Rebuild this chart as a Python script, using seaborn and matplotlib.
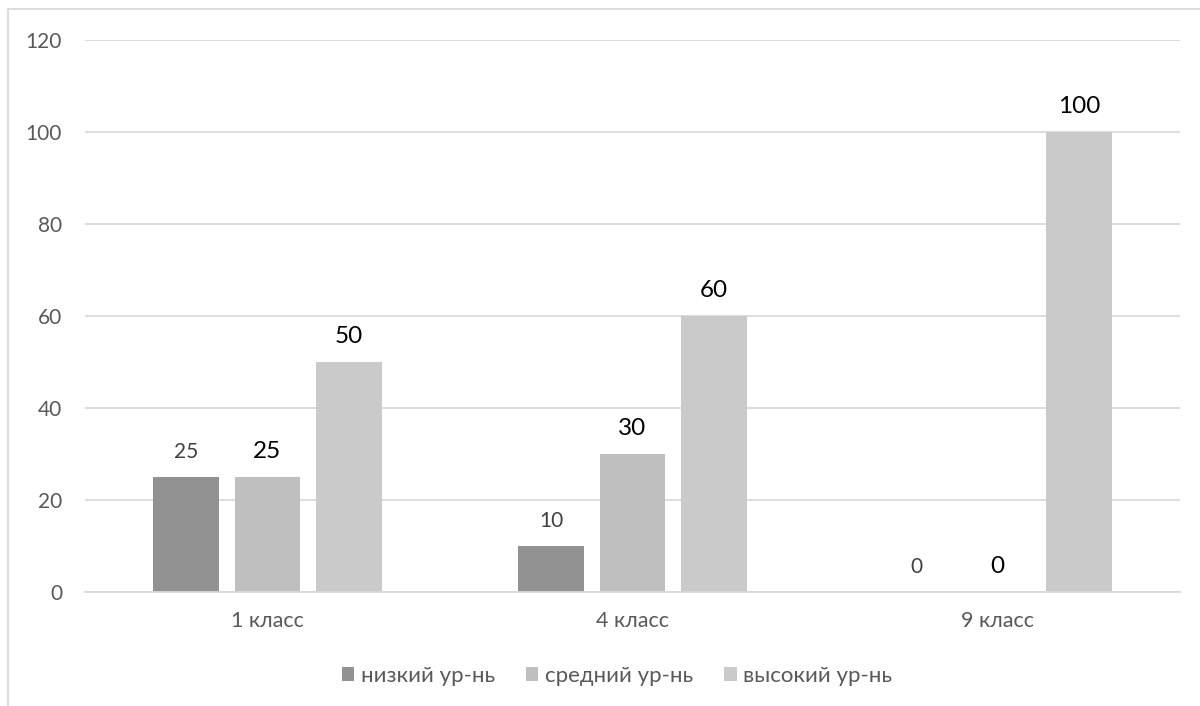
import matplotlib

matplotlib.use("Agg")
import matplotlib.pyplot as plt
import pandas as pd
import seaborn as sns
from matplotlib.lines import Line2D

# ---------------------------------------------------------------------------
# Data
# ---------------------------------------------------------------------------
classes = ["1 класс", "4 класс", "9 класс"]
levels = ["низкий ур-нь", "средний ур-нь", "высокий ур-нь"]
low_values = [25, 10, 0]
mid_values = [25, 30, 0]
high_values = [50, 60, 100]
y_ticks = [0, 20, 40, 60, 80, 100, 120]

colors = ["#929292", "#BFBFBF", "#CACACA"]
label_colors = ["#404040", "#000000", "#000000"]
label_sizes = [15, 17.5, 17.5]

df = pd.DataFrame(
    {
        "class": classes * 3,
        "level": [lv for lv in levels for _ in classes],
        "value": low_values + mid_values + high_values,
    }
)

sns.set_theme(style="white")
plt.rcParams["font.family"] = ["Lato", "Open Sans", "DejaVu Sans"]

fig = plt.figure(figsize=(12, 7.06), dpi=100)
ax = fig.add_axes([85 / 1200, 1 - 592 / 706, 1095 / 1200, 552 / 706])

sns.barplot(
    data=df,
    x="class",
    y="value",
    hue="level",
    order=classes,
    hue_order=levels,
    palette=colors,
    width=0.67,
    gap=0.2,
    saturation=1,
    edgecolor="none",
    ax=ax,
)

for container, col, size in zip(ax.containers, label_colors, label_sizes):
    ax.bar_label(container, fmt="%g", padding=10.5, color=col, fontsize=size)

ax.set_ylim(0, 120)
ax.set_yticks(y_ticks)
ax.set_xlim(-0.5, 2.5)
ax.yaxis.grid(True, color="#D9D9D9", linewidth=1.3)
ax.set_axisbelow(True)
for side in ["left", "right", "top"]:
    ax.spines[side].set_visible(False)
ax.spines["bottom"].set_color("#D9D9D9")
ax.spines["bottom"].set_linewidth(1.3)
ax.tick_params(axis="both", length=0, labelsize=15, labelcolor="#595959")
ax.tick_params(axis="y", pad=16.5)
ax.tick_params(axis="x", pad=14, labelsize=15.5)
ax.set_xlabel("")
ax.set_ylabel("")

ax.legend(
    loc="center",
    bbox_to_anchor=(0.486, -0.152),
    ncol=3,
    frameon=False,
    fontsize=16,
    labelcolor="#595959",
    handlelength=0.55,
    handleheight=0.55,
    handletextpad=0.3,
    columnspacing=1.4,
)

# chart frame (only the left and top edges are visible in the crop)
fig.add_artist(Line2D([8 / 1200, 8 / 1200], [0, 1 - 9 / 706], color="#D9D9D9", linewidth=1.3))
fig.add_artist(Line2D([8 / 1200, 1], [1 - 9 / 706, 1 - 9 / 706], color="#D9D9D9", linewidth=1.3))

fig.savefig("out.png", dpi=100)
plt.close(fig)
